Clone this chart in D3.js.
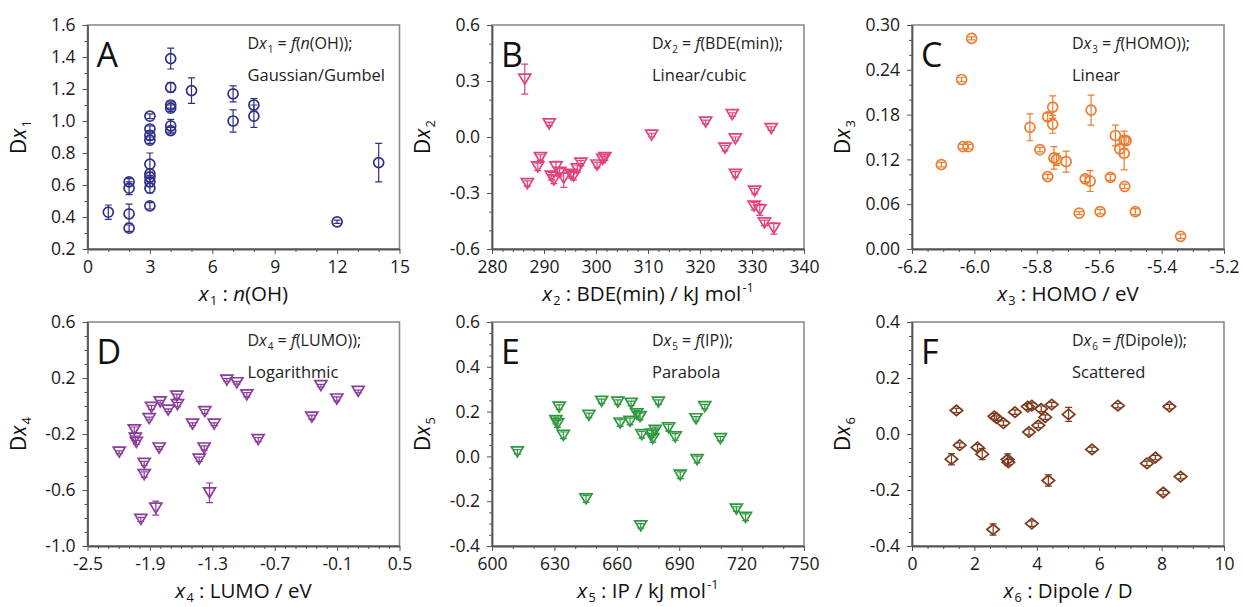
<!DOCTYPE html>
<html>
<head>
<meta charset="utf-8">
<script src="https://cdn.jsdelivr.net/npm/d3@7"></script>
<style>
  html, body { margin: 0; padding: 0; background: #fff; }
  svg { display: block; font-family: "Open Sans", "Noto Sans", sans-serif; }
</style>
</head>
<body>
<svg id="chart" width="1243" height="607"></svg>
<script>
// ---- Panel A: number of OH groups ----
const nOH   = [1, 2, 2, 2, 2, 3, 3, 3, 3, 3, 3, 3, 3, 3, 3, 4, 4, 4, 4, 4, 4, 5, 7, 7, 8, 8, 12, 14];
const dx1   = [0.43, 0.33, 0.42, 0.58, 0.62, 0.47, 0.58, 0.62, 0.65, 0.67, 0.73, 0.88, 0.91, 0.95, 1.03,
               0.94, 0.97, 1.08, 1.10, 1.21, 1.39, 1.19, 1.00, 1.17, 1.03, 1.10, 0.37, 0.74];
const dx1Err = [0.045, 0.02, 0.06, 0.04, 0.02, 0.02, 0.03, 0.03, 0.03, 0.03, 0.07, 0.02, 0.03, 0.02, 0.015,
               0.02, 0.04, 0.02, 0.02, 0.03, 0.065, 0.08, 0.07, 0.05, 0.07, 0.04, 0.01, 0.12];
const xTicksA = [0, 3, 6, 9, 12, 15];
const yTicksA = [0.2, 0.4, 0.6, 0.8, 1.0, 1.2, 1.4, 1.6];

// ---- Panel B: minimum bond dissociation enthalpy ----
const bde  = [286.3, 286.8, 291.0, 289.3, 288.8, 292.3, 291.4, 291.9, 293.0, 293.8, 295.2, 295.7, 297.1, 296.4,
              300.2, 301.7, 301.3, 310.7, 321.1, 326.2, 324.8, 326.8, 326.8, 333.7, 330.5, 330.4, 331.5, 332.4, 334.2];
const dx2  = [0.31, -0.25, 0.07, -0.11, -0.16, -0.16, -0.21, -0.23, -0.19, -0.22, -0.20, -0.21, -0.14, -0.17,
              -0.15, -0.11, -0.12, 0.01, 0.08, 0.12, -0.06, -0.01, -0.20, 0.045, -0.29, -0.37, -0.39, -0.46, -0.49];
const dx2Err = [0.08, 0.015, 0.01, 0.015, 0.02, 0.03, 0.02, 0.02, 0.02, 0.05, 0.02, 0.02, 0.015, 0.02,
              0.015, 0.015, 0.015, 0.01, 0.01, 0.01, 0.015, 0.01, 0.015, 0.01, 0.015, 0.02, 0.03, 0.015, 0.03];
const xTicksB = [280, 290, 300, 310, 320, 330, 340];
const yTicksB = [-0.6, -0.3, 0.0, 0.3, 0.6];

// ---- Panel C: HOMO energy ----
const homo = [-6.009, -6.041, -6.106, -6.036, -6.020, -5.822, -5.790, -5.765, -5.749, -5.749, -5.745, -5.737,
              -5.765, -5.706, -5.664, -5.645, -5.629, -5.626, -5.597, -5.564, -5.548, -5.534, -5.520, -5.514,
              -5.520, -5.518, -5.484, -5.339];
const dx3  = [0.282, 0.227, 0.113, 0.137, 0.137, 0.163, 0.133, 0.177, 0.190, 0.167, 0.122, 0.120,
              0.097, 0.117, 0.048, 0.094, 0.091, 0.186, 0.050, 0.096, 0.152, 0.134, 0.146, 0.145,
              0.128, 0.084, 0.050, 0.017];
const dx3Err = [0.002, 0.003, 0.003, 0.003, 0.003, 0.018, 0.003, 0.005, 0.015, 0.012, 0.015, 0.008,
              0.003, 0.014, 0.002, 0.004, 0.014, 0.02, 0.003, 0.004, 0.014, 0.006, 0.012, 0.006,
              0.022, 0.003, 0.004, 0.003];
const xTicksC = [-6.2, -6.0, -5.8, -5.6, -5.4, -5.2];
const yTicksC = [0.00, 0.06, 0.12, 0.18, 0.24, 0.30];

// ---- Panel D: LUMO energy ----
const lumo = [-2.195, -2.05, -2.04, -2.03, -1.955, -1.955, -1.987, -1.843, -1.811, -1.907, -1.885, -1.801,
              -1.724, -1.641, -1.635, -1.49, -1.426, -1.378, -1.372, -1.282, -1.327, -1.16, -1.064, -0.968,
              -0.859, -0.343, -0.256, -0.103, 0.103];
const dx4  = [-0.33, -0.17, -0.23, -0.26, -0.41, -0.49, -0.81, -0.73, -0.30, -0.09, -0.01, 0.03,
              -0.03, 0.07, 0.01, -0.13, -0.38, -0.30, -0.04, -0.13, -0.62, 0.185, 0.166, 0.08,
              -0.24, -0.08, 0.145, 0.05, 0.104];
const dx4Err = [0.01, 0.02, 0.015, 0.015, 0.015, 0.02, 0.015, 0.05, 0.01, 0.01, 0.015, 0.01,
              0.01, 0.015, 0.015, 0.01, 0.015, 0.015, 0.015, 0.01, 0.07, 0.01, 0.01, 0.015,
              0.015, 0.015, 0.01, 0.015, 0.01];
const xTicksD = [-2.5, -1.9, -1.3, -0.7, -0.1, 0.5];
const yTicksD = [-1.0, -0.6, -0.2, 0.2, 0.6];

// ---- Panel E: ionisation potential ----
const ip   = [612.2, 632.3, 630.7, 631.5, 634.3, 646.6, 645.2, 652.7, 660.5, 661.6, 666.9, 666.4, 669.6, 671.2,
              672.0, 671.5, 676.8, 677.3, 678.5, 680.0, 684.9, 688.1, 690.5, 698.1, 698.6, 702.3, 709.8, 717.5, 721.9];
const dx5  = [0.02, 0.22, 0.16, 0.145, 0.094, 0.183, -0.19, 0.246, 0.242, 0.149, 0.237, 0.156, 0.19, 0.178,
              0.097, -0.31, 0.10, 0.079, 0.116, 0.242, 0.128, 0.087, -0.084, 0.168, -0.014, 0.222, 0.079, -0.235, -0.272];
const dx5Err = [0.01, 0.01, 0.015, 0.015, 0.015, 0.01, 0.015, 0.01, 0.01, 0.015, 0.01, 0.015, 0.015, 0.015,
              0.015, 0.01, 0.015, 0.015, 0.015, 0.01, 0.015, 0.015, 0.015, 0.01, 0.015, 0.01, 0.01, 0.01, 0.015];
const xTicksE = [600, 630, 660, 690, 720, 750];
const yTicksE = [-0.4, -0.2, 0.0, 0.2, 0.4, 0.6];

// ---- Panel F: dipole moment ----
const dipole = [1.265, 1.425, 1.53, 2.10, 2.25, 2.64, 2.71, 2.93, 2.60, 3.065, 3.09, 3.30, 3.71, 3.75, 3.84,
                3.84, 4.05, 4.14, 4.27, 4.48, 4.37, 5.02, 5.77, 6.60, 7.53, 7.80, 8.05, 8.25, 8.61];
const dx6  = [-0.09, 0.084, -0.04, -0.048, -0.072, 0.063, 0.057, 0.039, -0.341, -0.091, -0.101, 0.078, 0.098, 0.007, 0.101,
              -0.32, 0.031, 0.09, 0.06, 0.105, -0.166, 0.07, -0.055, 0.101, -0.105, -0.084, -0.209, 0.098, -0.152];
const dx6Err = [0.02, 0.008, 0.008, 0.01, 0.02, 0.01, 0.008, 0.008, 0.02, 0.02, 0.01, 0.008, 0.01, 0.01, 0.01,
              0.01, 0.008, 0.01, 0.008, 0.008, 0.02, 0.025, 0.008, 0.008, 0.008, 0.008, 0.008, 0.008, 0.008];
const xTicksF = [0, 2, 4, 6, 8, 10];
const yTicksF = [-0.4, -0.2, 0.0, 0.2, 0.4];

// ---------------------------------------------------------------------------
const locale = d3.formatLocale({ decimal: ".", thousands: ",", grouping: [3], currency: ["", ""], minus: "-" });
const f0 = locale.format(".0f"), f1 = locale.format(".1f"), f2 = locale.format(".2f");

const colLeft = [87.5, 492, 912];
const rowTop = [25, 322];
const plotW = 312, plotH = 224;

const panels = [
  { letter: "A", col: 0, row: 0, xs: nOH, ys: dx1, es: dx1Err, xDom: [0, 15], yDom: [0.2, 1.6],
    xT: xTicksA, yT: yTicksA, xMinor: 1, yMinor: 0.1, xf: f0, yf: f1, color: "#30308a", sym: "circle", sub: "1",
    fn: [{t: "("}, {t: "n", i: 1}, {t: "(OH));"}], model: "Gaussian/Gumbel",
    xt: [{t: "n", i: 1}, {t: "(OH)"}] },
  { letter: "B", col: 1, row: 0, xs: bde, ys: dx2, es: dx2Err, xDom: [280, 340], yDom: [-0.6, 0.6],
    xT: xTicksB, yT: yTicksB, xMinor: 2, yMinor: 0.1, xf: f0, yf: f1, color: "#e2417c", sym: "tri", sub: "2",
    fn: [{t: "(BDE(min));"}], model: "Linear/cubic",
    xt: [{t: "BDE(min) / kJ mol"}, {t: "-1", sup: 1}] },
  { letter: "C", col: 2, row: 0, xs: homo, ys: dx3, es: dx3Err, xDom: [-6.2, -5.2], yDom: [0, 0.30],
    xT: xTicksC, yT: yTicksC, xMinor: 0.05, yMinor: 0.02, xf: f1, yf: f2, color: "#ee7c2e", sym: "circle", sub: "3",
    fn: [{t: "(HOMO));"}], model: "Linear",
    xt: [{t: "HOMO / eV"}] },
  { letter: "D", col: 0, row: 1, xs: lumo, ys: dx4, es: dx4Err, xDom: [-2.5, 0.5], yDom: [-1.0, 0.6],
    xT: xTicksD, yT: yTicksD, xMinor: 0.1, yMinor: 0.1, xf: f1, yf: f1, color: "#8b3c9c", sym: "tri", sub: "4",
    fn: [{t: "(LUMO));"}], model: "Logarithmic",
    xt: [{t: "LUMO / eV"}] },
  { letter: "E", col: 1, row: 1, xs: ip, ys: dx5, es: dx5Err, xDom: [600, 750], yDom: [-0.4, 0.6],
    xT: xTicksE, yT: yTicksE, xMinor: 10, yMinor: 0.05, xf: f0, yf: f1, color: "#2f983f", sym: "tri", sub: "5",
    fn: [{t: "(IP));"}], model: "Parabola",
    xt: [{t: "IP / kJ mol"}, {t: "-1", sup: 1}] },
  { letter: "F", col: 2, row: 1, xs: dipole, ys: dx6, es: dx6Err, xDom: [0, 10], yDom: [-0.4, 0.4],
    xT: xTicksF, yT: yTicksF, xMinor: 0.5, yMinor: 0.05, xf: f0, yf: f1, color: "#7e3a1c", sym: "diamond", sub: "6",
    fn: [{t: "(Dipole));"}], model: "Scattered",
    xt: [{t: "Dipole / D"}] }
];

const svg = d3.select("#chart");

// Writes mixed italic / subscript / superscript runs into a text element.
function rich(text, parts, size) {
  let shift = 0;
  parts.forEach(p => {
    const ts = text.append("tspan").text(p.t);
    const target = p.sub ? size * 0.24 : p.sup ? -size * 0.42 : 0;
    if (target !== shift) ts.attr("dy", target - shift);
    shift = target;
    if (p.sub || p.sup) ts.attr("font-size", size * 0.62).attr("dx", size * 0.06);
    if (p.i) ts.attr("font-style", "italic");
  });
}

function minorValues(dom, step, majors) {
  const lo = Math.min(...dom), hi = Math.max(...dom);
  const out = [];
  const n = Math.round((hi - lo) / step);
  for (let k = 0; k <= n; k++) {
    const v = lo + k * step;
    if (!majors.some(m => Math.abs(m - v) < step * 1e-3)) out.push(v);
  }
  return out;
}

function symbolPath(kind) {
  if (kind === "tri") {
    const w = 12, h = 10;
    return `M${-w / 2},${-h / 2}L${w / 2},${-h / 2}L0,${h / 2}Z`;
  }
  if (kind === "diamond") {
    const w = 12.5, h = 10.5;
    return `M0,${-h / 2}L${w / 2},0L0,${h / 2}L${-w / 2},0Z`;
  }
  return null;
}

panels.forEach(p => {
  const left = colLeft[p.col], top = rowTop[p.row];
  const h = plotH;
  const x = d3.scaleLinear().domain(p.xDom).range([0, plotW]);
  const y = d3.scaleLinear().domain(p.yDom).range([h, 0]);
  const g = svg.append("g").attr("transform", `translate(${left},${top})`);

  // frame
  g.append("rect").attr("width", plotW).attr("height", h)
    .attr("fill", "none").attr("stroke", "#8c8c8c").attr("stroke-width", 1.6);

  // axes: majors with labels, minors without
  const xAxis = g.append("g").attr("transform", `translate(0,${h})`)
    .call(d3.axisBottom(x).tickValues(p.xT).tickFormat(p.xf).tickSize(5).tickSizeOuter(0).tickPadding(6.5));
  g.append("g").attr("transform", `translate(0,${h})`)
    .call(d3.axisBottom(x).tickValues(minorValues(p.xDom, p.xMinor, p.xT)).tickFormat("").tickSize(3).tickSizeOuter(0))
    .call(a => a.select(".domain").remove());
  const yAxis = g.append("g")
    .call(d3.axisLeft(y).tickValues(p.yT).tickFormat(p.yf).tickSize(5).tickSizeOuter(0).tickPadding(7));
  g.append("g")
    .call(d3.axisLeft(y).tickValues(minorValues(p.yDom, p.yMinor, p.yT)).tickFormat("").tickSize(3).tickSizeOuter(0))
    .call(a => a.select(".domain").remove());

  g.selectAll(".domain").attr("stroke", "#555").attr("stroke-width", 1.8);
  g.selectAll(".tick line").attr("stroke", "#555").attr("stroke-width", 1);
  [xAxis, yAxis].forEach(a => a.selectAll("text")
    .attr("font-size", 17.5).attr("fill", "#1a1a1a").attr("font-family", "\"Open Sans\", sans-serif"));

  // error bars
  const idx = d3.range(p.xs.length);
  const eb = g.append("g").attr("stroke", p.color).attr("stroke-width", 1.2).attr("fill", "none");
  idx.forEach(i => {
    const cx = x(p.xs[i]), y1 = y(p.ys[i] - p.es[i]), y2 = y(p.ys[i] + p.es[i]);
    eb.append("path").attr("d", `M${cx},${y1}V${y2}M${cx - 3.5},${y1}H${cx + 3.5}M${cx - 3.5},${y2}H${cx + 3.5}`);
  });

  // markers
  const mk = g.append("g").attr("stroke", p.color).attr("stroke-width", 1.7).attr("fill", "none");
  if (p.sym === "circle") {
    mk.selectAll("circle").data(idx).join("circle")
      .attr("cx", i => x(p.xs[i])).attr("cy", i => y(p.ys[i])).attr("r", 5);
  } else {
    const d = symbolPath(p.sym);
    mk.selectAll("path").data(idx).join("path")
      .attr("transform", i => `translate(${x(p.xs[i])},${y(p.ys[i])})`).attr("d", d);
  }

  // panel letter
  g.append("text").attr("x", 9).attr("y", 42).attr("font-size", 34).attr("fill", "#111").text(p.letter);

  // fitted-function annotation
  const a1 = g.append("text").attr("x", 160).attr("y", 24).attr("font-size", 16).attr("fill", "#222");
  rich(a1, [{t: "D"}, {t: "x", i: 1}, {t: p.sub, sub: 1}, {t: " = "}, {t: "f", i: 1}].concat(p.fn), 16);
  g.append("text").attr("x", 160).attr("y", 56).attr("font-size", 16.5).attr("fill", "#222").text(p.model);

  // axis titles
  const xt = g.append("text").attr("x", plotW / 2).attr("y", h + 51.5).attr("text-anchor", "middle")
    .attr("font-size", 20.5).attr("fill", "#111");
  rich(xt, [{t: "x", i: 1}, {t: p.sub, sub: 1}, {t: " : "}].concat(p.xt), 20.5);

  const yt = g.append("text").attr("transform", `translate(-62,${h / 2}) rotate(-90)`)
    .attr("text-anchor", "middle").attr("font-size", 21).attr("fill", "#111");
  rich(yt, [{t: "D"}, {t: "x", i: 1}, {t: p.sub, sub: 1}], 21);
});
</script>
</body>
</html>
